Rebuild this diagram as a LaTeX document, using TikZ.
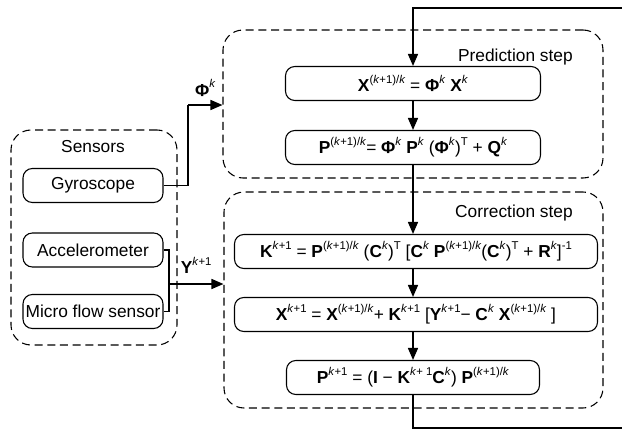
\documentclass[tikz,border=0pt]{standalone}
\usepackage{fontspec}
\setmainfont{Liberation Sans}
\usetikzlibrary{arrows.meta}
\newcommand{\bv}[1]{\textbf{#1}}
\newcommand{\up}[1]{\raisebox{0.48em}{\fontsize{8.5}{9}\selectfont #1}}
\newcommand{\kk}{\textit{k}}

\begin{document}
\begin{tikzpicture}[x=0.75pt, y=-0.75pt, font=\fontsize{13}{15}\selectfont]
  \tikzset{every node/.style={inner sep=0pt},
           group/.style={draw, dash pattern=on 6pt off 3.5pt, rounded corners=15pt, line width=0.8pt},
           eqbox/.style={draw, rounded corners=7pt, line width=0.8pt, minimum height=25.5pt},
           sensbox/.style={eqbox, minimum width=105pt},
           flow/.style={line width=1.1pt, -{Triangle[length=9pt,width=7.5pt]}},
           plain/.style={line width=1.1pt}}
  \useasboundingbox (0,0) rectangle (622,432);

  \node[group, minimum width=124.5pt, minimum height=161.25pt] (sens) at (94,237.5) {};
  \node[group, minimum width=285pt, minimum height=111pt] (pred) at (413,104) {};
  \node[group, minimum width=284.25pt, minimum height=162pt] (corr) at (413.5,300) {};
  \node (senslbl) at (93,147) {Sensors};
  \node[anchor=east] (predlbl) at (573,57) {Prediction step};
  \node[anchor=east] (corrlbl) at (573,213) {Correction step};

  \node[sensbox] (gyro) at (93,185.5) {Gyroscope};
  \node[sensbox] (acc) at (93,250) {Accelerometer};
  \node[sensbox] (mfs) at (93,311.5) {Micro flow sensor};

  \node[eqbox, minimum width=191.25pt] (xpred) at (413,83.5)
    {\bv{X}\up{(\kk+1)/\kk} = \bv{Φ}\up{\kk} \bv{X}\up{\kk}};
  \node[eqbox, minimum width=191.25pt] (ppred) at (413,147.5)
    {\bv{P}\up{(\kk+1)/\kk}= \bv{Φ}\up{\kk} \bv{P}\up{\kk} (\bv{Φ}\up{\kk})\up{T} + \bv{Q}\up{\kk}};
  \node[eqbox, minimum width=272.25pt] (kcorr) at (416,251.5)
    {\bv{K}\up{\kk+1} = \bv{P}\up{(\kk+1)/\kk} (\bv{C}\up{\kk})\up{T} [\bv{C}\up{\kk} \bv{P}\up{(\kk+1)/\kk}(\bv{C}\up{\kk})\up{T} + \bv{R}\up{\kk}]\up{-1}};
  \node[eqbox, minimum width=272.25pt] (xcorr) at (416,314.5)
    {\bv{X}\up{\kk+1} = \bv{X}\up{(\kk+1)/\kk}+ \bv{K}\up{\kk+1} [\bv{Y}\up{\kk+1}− \bv{C}\up{\kk} \bv{X}\up{(\kk+1)/\kk} ]};
  \node[eqbox, minimum width=189.75pt] (pcorr) at (413,377.5)
    {\bv{P}\up{\kk+1} = (\bv{I} − \bv{K}\up{\kk + 1}\bv{C}\up{\kk}) \bv{P}\up{(\kk+1)/\kk}};

  \coordinate (topR) at (622,8);
  \coordinate (botR) at (622,428);
  \coordinate (phij) at (188,105);
  \coordinate (yj) at (169,284);

  \draw[flow] (topR) -| (xpred.north);
  \draw[flow] (xpred) -- (ppred);
  \draw[flow] (ppred.south) -- (ppred.south |- kcorr.north);
  \draw[flow] (kcorr.south -| pcorr) -- (xcorr.north -| pcorr);
  \draw[flow] (xcorr.south -| pcorr) -- (pcorr.north);
  \draw[plain] (pcorr.south) |- (botR);

  \draw[plain] (gyro.east) -| (phij);
  \draw[flow] (phij) -- (phij -| pred.west) node[pos=0.5, above=6pt] (philbl) {\bv{Φ}\up{\kk}};
  \draw[plain] (acc.east) -| (yj) |- (mfs.east);
  \draw[flow] (yj) -- (yj -| corr.west) node[pos=0.5, above=7pt] (ylbl) {\bv{Y}\up{\kk+1}};
\end{tikzpicture}
\end{document}
